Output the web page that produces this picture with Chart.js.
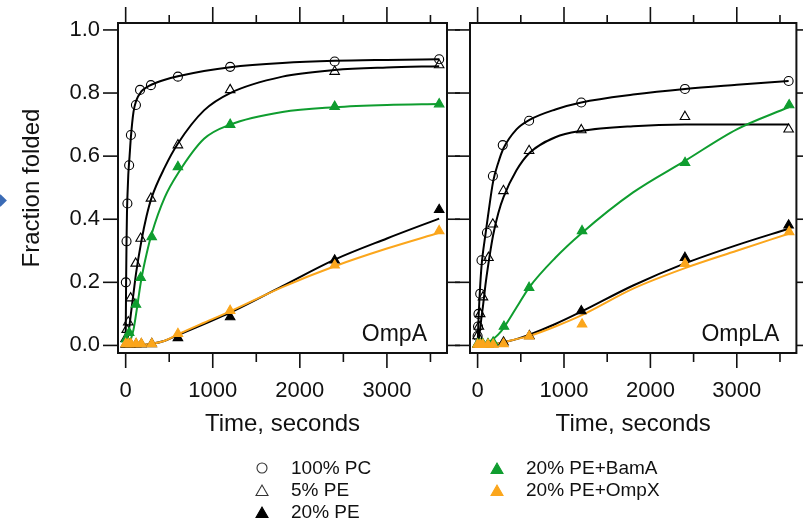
<!DOCTYPE html>
<html><head><meta charset="utf-8">
<script src="https://cdn.jsdelivr.net/npm/chart.js@4.4.1/dist/chart.umd.min.js"></script>
<style>
html,body{margin:0;padding:0;background:#fff;width:803px;height:519px;overflow:hidden;position:relative;font-family:'Liberation Sans',Arial,sans-serif;}
canvas{position:absolute;top:0;}
#cA{left:0;} #cB{left:455px;}
.lgItem{position:absolute;height:22px;display:flex;align-items:center;font-size:19px;color:#111;white-space:nowrap;}
.lgItem svg{position:absolute;left:-36px;top:4px;}
#diamond{position:absolute;left:-4px;top:196px;width:9px;height:9px;background:#3b6bb5;transform:rotate(45deg);}
</style></head><body>
<canvas id="cA" width="460" height="519"></canvas>
<canvas id="cB" width="348" height="519"></canvas>
<div id="legend"></div>
<div id="diamond"></div>
<script>
// ---------- labels ----------
const seriesNames = ['100% PC','5% PE','20% PE','20% PE+BamA','20% PE+OmpX'];
const panelNames = ['OmpA','OmpLA'];
const xTitle = 'Time, seconds';
const yTitle = 'Fraction folded';
const xTickValues = [0,1000,2000,3000];
const xMinorTickValues = [500,1500,2500,3500];
const yTickValues = [0,0.2,0.4,0.6,0.8,1.0];

// ---------- OmpA measured points ----------
const ompA_pc_time   = [2,10,20,40,60,118,165,290,600,1200,2400,3600];
const ompA_pc_frac   = [0.20,0.33,0.45,0.571,0.667,0.762,0.81,0.825,0.852,0.883,0.90,0.907];
const ompA_pe5_time  = [0,12,30,57,115,172,290,600,1200,2400,3600];
const ompA_pe5_frac  = [0.021,0.05,0.074,0.15,0.26,0.339,0.466,0.635,0.81,0.868,0.889];
const ompA_pe20_time = [0,30,60,120,180,300,600,1200,2400,3600];
const ompA_pe20_frac = [0.003,0.003,0.003,0.004,0.004,0.005,0.024,0.09,0.27,0.43];
const ompA_bam_time  = [5,40,118,172,299,600,1200,2400,3600];
const ompA_bam_frac  = [0.02,0.04,0.13,0.215,0.344,0.566,0.70,0.757,0.765];
const ompA_ompx_time = [0,30,60,120,180,300,600,1200,2400,3600];
const ompA_ompx_frac = [0.005,0.005,0.005,0.005,0.005,0.005,0.037,0.11,0.254,0.363];

// ---------- OmpLA measured points ----------
const ompLA_pc_time   = [0,5,10,30,45,108,177,291,596,1200,2400,3600];
const ompLA_pc_frac   = [0.03,0.06,0.10,0.164,0.27,0.357,0.537,0.635,0.712,0.77,0.813,0.838];
const ompLA_pe5_time  = [0,15,30,62,126,176,299,596,1200,2400,3600];
const ompLA_pe5_frac  = [0.03,0.06,0.10,0.153,0.278,0.384,0.49,0.617,0.683,0.725,0.685];
const ompLA_pe20_time = [0,30,60,120,180,300,600,1200,2400,3600];
const ompLA_pe20_frac = [0.003,0.003,0.003,0.003,0.005,0.01,0.03,0.109,0.278,0.381];
const ompLA_bam_time  = [0,30,60,120,180,305,596,1209,2401,3606];
const ompLA_bam_frac  = [0.005,0.005,0.005,0.005,0.01,0.06,0.183,0.363,0.579,0.762];
const ompLA_ompx_time = [0,30,60,120,180,300,596,1209,2401,3606];
const ompLA_ompx_frac = [0.003,0.003,0.003,0.003,0.003,0.005,0.029,0.067,0.259,0.36];

// ---------- fitted curves ----------
const fitTime = [0,5,10,15,20,30,45,60,90,120,180,240,300,450,600,900,1200,1800,2400,3000,3600];
const ompA_pc_fit   = [0,0.20,0.33,0.42,0.47,0.54,0.60,0.66,0.74,0.775,0.805,0.818,0.827,0.842,0.853,0.87,0.882,0.895,0.902,0.905,0.907];
const ompA_pe5_fit  = [0,0,0.005,0.01,0.017,0.035,0.065,0.10,0.165,0.23,0.33,0.41,0.47,0.565,0.64,0.745,0.80,0.852,0.873,0.881,0.885];
const ompA_pe20_fit = [0,0,0,0,0,0,0,0,0,0,0.001,0.003,0.005,0.015,0.033,0.068,0.104,0.188,0.272,0.339,0.402];
const ompA_bam_fit  = [0,0,0,0,0,0.003,0.01,0.02,0.05,0.10,0.21,0.29,0.355,0.47,0.545,0.655,0.70,0.74,0.755,0.762,0.765];
const ompA_ompx_fit = [0,0,0,0,0,0,0,0,0,0,0.001,0.003,0.005,0.015,0.035,0.072,0.108,0.185,0.251,0.307,0.357];

const ompLA_pc_fit   = [0,0.04,0.08,0.11,0.14,0.19,0.25,0.29,0.35,0.41,0.52,0.58,0.625,0.685,0.715,0.748,0.77,0.795,0.813,0.826,0.838];
const ompLA_pe5_fit  = [0,0.005,0.012,0.022,0.033,0.055,0.09,0.12,0.19,0.25,0.35,0.42,0.47,0.555,0.61,0.66,0.68,0.695,0.70,0.70,0.70];
const ompLA_pe20_fit = [0,0,0,0,0,0,0,0,0,0.001,0.003,0.006,0.01,0.02,0.034,0.068,0.107,0.19,0.26,0.318,0.37];
const ompLA_bam_fit  = [0,0,0,0,0,0,0,0.001,0.004,0.008,0.02,0.035,0.055,0.12,0.185,0.278,0.355,0.485,0.585,0.685,0.755];
const ompLA_ompx_fit = [0,0,0,0,0,0,0,0,0,0.001,0.003,0.006,0.01,0.02,0.03,0.06,0.095,0.18,0.245,0.30,0.354];

// ---------- styles ----------
const FONT = "'Liberation Sans', Arial, sans-serif";
const GREEN = '#0f9d2f', ORANGE = '#fba61c';
const styles = [
  {color:'#000', shape:'circle',   filled:false, r:4.5},
  {color:'#000', shape:'triangle', filled:false, r:5.5},
  {color:'#000', shape:'triangle', filled:true,  r:5.5},
  {color:GREEN,  shape:'triangle', filled:true,  r:5.5},
  {color:ORANGE, shape:'triangle', filled:true,  r:5.5}
];

function pts(t, v){ return t.map((x,i)=>({x:x, y:v[i]})); }

function buildDatasets(points, fits){
  const ds = [];
  for (let i = 4; i >= 0; i--) {
    const s = styles[i];
    ds.push({label:seriesNames[i], data:points[i], showLine:false,
      pointStyle:s.shape, pointRadius:s.r, pointBorderWidth:1.1,
      pointBorderColor:s.color, pointBackgroundColor:s.filled ? s.color : 'rgba(0,0,0,0)'});
  }
  for (let i = 4; i >= 0; i--) {
    const s = styles[i];
    ds.push({label:seriesNames[i]+' fit', data:fits[i], showLine:true, pointRadius:0,
      borderColor:s.color, borderWidth:2, cubicInterpolationMode:'monotone', fill:false});
  }
  return ds;
}

const frameTicks = {
  id:'frameTicks',
  afterDraw(chart, args, opts){
    const {ctx, chartArea:a} = chart;
    const x = chart.scales.x, y = chart.scales.y;
    ctx.save();
    ctx.strokeStyle = '#111';
    ctx.lineWidth = 1.6;
    const L = (x1,y1,x2,y2)=>{ctx.beginPath();ctx.moveTo(x1,y1);ctx.lineTo(x2,y2);ctx.stroke();};
    xTickValues.forEach(v=>{const p=x.getPixelForValue(v); L(p,a.bottom,p,a.bottom+15); L(p,a.top,p,a.top-16);});
    xMinorTickValues.forEach(v=>{const p=x.getPixelForValue(v); L(p,a.bottom,p,a.bottom+9); L(p,a.top,p,a.top-8);});
    yTickValues.forEach(v=>{const p=y.getPixelForValue(v); L(a.left-15,p,a.left,p); L(a.right,p,a.right+15,p);});
    ctx.lineWidth = 2;
    ctx.strokeRect(a.left, a.top, a.right-a.left, a.bottom-a.top);
    ctx.fillStyle = '#111';
    ctx.font = '23px ' + FONT;
    ctx.textAlign = 'right';
    ctx.textBaseline = 'alphabetic';
    ctx.fillText(opts.name, a.right - opts.inset, a.bottom - 12);
    ctx.restore();
  }
};

const hiddenGrid = {display:true, drawOnChartArea:false, drawTicks:true, tickLength:15, tickColor:'rgba(0,0,0,0)'};

function makeChart(id, name, points, fits, showY, padL, padR, inset){
  return new Chart(document.getElementById(id), {
    type:'scatter',
    data:{datasets:buildDatasets(points, fits)},
    options:{
      responsive:false, animation:false, devicePixelRatio:1,
      layout:{padding:{left:padL, right:padR, top:23, bottom:80}},
      plugins:{legend:{display:false}, tooltip:{enabled:false}, frameTicks:{name:name, inset:inset}},
      scales:{
        x:{type:'linear', min:-88, max:3690, position:'bottom',
          afterBuildTicks:s=>{s.ticks = xTickValues.map(v=>({value:v}));},
          afterFit:s=>{s.height = 86; s.paddingLeft = 0; s.paddingRight = 0;},
          grid:hiddenGrid, border:{display:false},
          ticks:{color:'#111', font:{family:FONT, size:22}, padding:10, maxRotation:0, autoSkip:false, callback:v=>String(v)},
          title:{display:true, text:xTitle, color:'#111', font:{family:FONT, size:24}, padding:{top:0, bottom:0}}},
        y:{type:'linear', min:-0.024, max:1.022, position:'left', display:showY,
          afterBuildTicks:s=>{s.ticks = yTickValues.map(v=>({value:v}));},
          afterFit:s=>{s.width = showY ? 118 : 0;},
          grid:hiddenGrid, border:{display:false},
          ticks:{color:'#111', font:{family:FONT, size:22}, padding:3, callback:v=>v.toFixed(1)},
          title:{display:true, text:yTitle, color:'#111', font:{family:FONT, size:24}, padding:{top:18, bottom:0}}}
      }
    },
    plugins:[frameTicks]
  });
}

Chart.defaults.font.family = FONT;

makeChart('cA', panelNames[0],
  [pts(ompA_pc_time,ompA_pc_frac), pts(ompA_pe5_time,ompA_pe5_frac), pts(ompA_pe20_time,ompA_pe20_frac), pts(ompA_bam_time,ompA_bam_frac), pts(ompA_ompx_time,ompA_ompx_frac)],
  [pts(fitTime,ompA_pc_fit), pts(fitTime,ompA_pe5_fit), pts(fitTime,ompA_pe20_fit), pts(fitTime,ompA_bam_fit), pts(fitTime,ompA_ompx_fit)],
  true, 0, 13, 20);

makeChart('cB', panelNames[1],
  [pts(ompLA_pc_time,ompLA_pc_frac), pts(ompLA_pe5_time,ompLA_pe5_frac), pts(ompLA_pe20_time,ompLA_pe20_frac), pts(ompLA_bam_time,ompLA_bam_frac), pts(ompLA_ompx_time,ompLA_ompx_frac)],
  [pts(fitTime,ompLA_pc_fit), pts(fitTime,ompLA_pe5_fit), pts(fitTime,ompLA_pe20_fit), pts(fitTime,ompLA_bam_fit), pts(fitTime,ompLA_ompx_fit)],
  false, 15, 3, 17);

// ---------- legend ----------
const legendPos = [[291,457],[291,479],[291,501],[526,457],[526,479]];
const lg = document.getElementById('legend');
seriesNames.forEach((n,i)=>{
  const s = styles[i];
  const d = document.createElement('div');
  d.className = 'lgItem';
  d.style.left = legendPos[i][0]+'px';
  d.style.top = legendPos[i][1]+'px';
  let svg;
  if (s.shape === 'circle') {
    svg = '<svg width="14" height="14"><circle cx="7" cy="7" r="5" fill="none" stroke="#333" stroke-width="1.1"/></svg>';
  } else {
    svg = '<svg width="14" height="14"><polygon points="1,12.5 7,2 13,12.5" fill="'+(s.filled?s.color:'none')+'" stroke="'+(s.filled?s.color:'#333')+'" stroke-width="1.1"/></svg>';
  }
  d.innerHTML = svg + '<span>'+n+'</span>';
  lg.appendChild(d);
});
</script>
</body></html>
